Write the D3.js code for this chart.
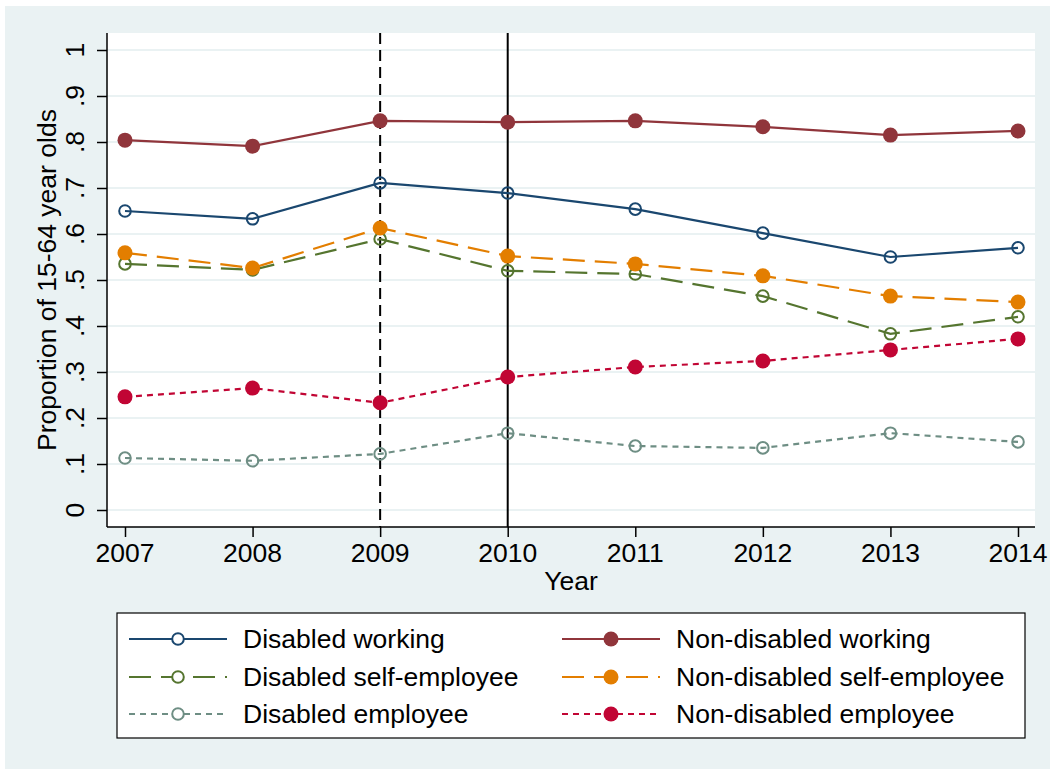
<!DOCTYPE html>
<html>
<head>
<meta charset="utf-8">
<script src="https://cdn.jsdelivr.net/npm/d3@7"></script>
<style>
  body{margin:0;background:#fff;}
  svg{display:block;font-family:"Liberation Sans",Arial,sans-serif;}
</style>
</head>
<body>
<svg id="chart"></svg>
<script>
// data
const years = [2007,2008,2009,2010,2011,2012,2013,2014];
const yTicks = [0,.1,.2,.3,.4,.5,.6,.7,.8,.9,1];
const yTickLabels = ["0",".1",".2",".3",".4",".5",".6",".7",".8",".9","1"];
const disWorking    = [0.650,0.633,0.711,0.689,0.654,0.602,0.550,0.570];
const nonWorking    = [0.804,0.791,0.846,0.843,0.846,0.833,0.815,0.824];
const disSelf       = [0.535,0.522,0.589,0.520,0.513,0.465,0.383,0.420];
const nonSelf       = [0.559,0.526,0.613,0.552,0.535,0.509,0.465,0.452];
const disEmployee   = [0.113,0.107,0.122,0.167,0.139,0.135,0.167,0.148];
const nonEmployee   = [0.246,0.265,0.233,0.289,0.311,0.324,0.348,0.372];
const seriesNames = ["Disabled working","Non-disabled working","Disabled self-employee",
                     "Non-disabled self-employee","Disabled employee","Non-disabled employee"];

const series = [
  {name:seriesNames[0],vals:disWorking, color:"#1a476f",dash:null,   filled:false},
  {name:seriesNames[1],vals:nonWorking, color:"#90353b",dash:null,   filled:true},
  {name:seriesNames[2],vals:disSelf,    color:"#55752f",dash:"22,10",filled:false},
  {name:seriesNames[3],vals:nonSelf,    color:"#e37e00",dash:"22,10",filled:true},
  {name:seriesNames[4],vals:disEmployee,color:"#6e8e84",dash:"6,5",  filled:false},
  {name:seriesNames[5],vals:nonEmployee,color:"#c10534",dash:"6,5",  filled:true}
];

const width=1050,height=769,fs=26.5;
const svg=d3.select('#chart').attr('width',width).attr('height',height);

// outer background (Stata s2color)
svg.append('rect').attr('x',5).attr('y',6).attr('width',width-5).attr('height',height-6).attr('fill','#eaf2f3');

const plot={x0:107,x1:1035,y0:33,y1:527};
svg.append('rect').attr('x',plot.x0).attr('y',plot.y0)
  .attr('width',plot.x1-plot.x0).attr('height',plot.y1-plot.y0).attr('fill','#fff');

const x=d3.scaleLinear().domain([2007,2014]).range([125,1018]);
const y=d3.scaleLinear().domain([0,1]).range([510,50]);

// gridlines
svg.selectAll('.grid').data(yTicks).join('line').classed('grid',true)
  .attr('x1',plot.x0).attr('x2',plot.x1)
  .attr('y1',d=>y(d)).attr('y2',d=>y(d))
  .attr('stroke','#eaf2f3').attr('stroke-width',2);

// reference lines at 2009 (dashed) and 2010 (solid)
svg.append('line').attr('x1',x(2009)).attr('x2',x(2009)).attr('y1',plot.y0).attr('y2',plot.y1)
  .attr('stroke','#000').attr('stroke-width',2).attr('stroke-dasharray','11,6');
svg.append('line').attr('x1',x(2010)).attr('x2',x(2010)).attr('y1',plot.y0).attr('y2',plot.y1)
  .attr('stroke','#000').attr('stroke-width',2);

// y axis
const yAxis=d3.axisLeft(y).tickValues(yTicks).tickSize(10).tickFormat('');
const gy=svg.append('g').attr('transform',`translate(${plot.x0},0)`).call(yAxis);
gy.select('.domain').remove();
gy.selectAll('.tick line').attr('stroke','#000').attr('stroke-width',1.5);
svg.append('line').attr('x1',plot.x0).attr('x2',plot.x0).attr('y1',plot.y0).attr('y2',plot.y1)
  .attr('stroke','#000').attr('stroke-width',1.5);
svg.selectAll('.ylab').data(yTicks).join('text').classed('ylab',true)
  .attr('transform',(d)=>`translate(84,${y(d)}) rotate(-90)`)
  .attr('text-anchor','middle').attr('font-size',fs)
  .text((d,i)=>yTickLabels[i]);

// x axis
const xAxis=d3.axisBottom(x).tickValues(years).tickSize(10).tickFormat('');
const gx=svg.append('g').attr('transform',`translate(0,${plot.y1})`).call(xAxis);
gx.select('.domain').remove();
gx.selectAll('.tick line').attr('stroke','#000').attr('stroke-width',1.5);
svg.append('line').attr('x1',plot.x0).attr('x2',plot.x1).attr('y1',plot.y1).attr('y2',plot.y1)
  .attr('stroke','#000').attr('stroke-width',1.5);
svg.selectAll('.xlab').data(years).join('text').classed('xlab',true)
  .attr('x',d=>x(d)).attr('y',562).attr('text-anchor','middle').attr('font-size',fs)
  .text(d=>d);

// axis titles
svg.append('text').attr('x',571).attr('y',590).attr('text-anchor','middle').attr('font-size',fs).text('Year');
svg.append('text').attr('transform',`translate(56,280) rotate(-90)`)
  .attr('text-anchor','middle').attr('font-size',fs).text('Proportion of 15-64 year olds');

// lines + markers
const line=d3.line().x((d,i)=>x(years[i])).y(d=>y(d));
series.forEach(s=>{
  svg.append('path').datum(s.vals).attr('d',line)
    .attr('fill','none').attr('stroke',s.color).attr('stroke-width',2.2)
    .attr('stroke-dasharray',s.dash);
  svg.selectAll(null).data(s.vals).join('circle')
    .attr('cx',(d,i)=>x(years[i])).attr('cy',d=>y(d))
    .attr('r',s.filled?7.5:5.8)
    .attr('fill',s.filled?s.color:'none')
    .attr('stroke',s.color).attr('stroke-width',s.filled?0:2);
});

// legend
svg.append('rect').attr('x',117).attr('y',613).attr('width',908).attr('height',125)
  .attr('fill','#fff').attr('stroke','#000').attr('stroke-width',1.2);
const rowY=[639,677,714];
series.forEach((s,i)=>{
  const col=i%2, row=Math.floor(i/2);
  const lx=col?562:129, cy=rowY[row];
  const g=svg.append('g');
  g.append('line').attr('x1',lx).attr('x2',lx+98).attr('y1',cy).attr('y2',cy)
    .attr('stroke',s.color).attr('stroke-width',2.2).attr('stroke-dasharray',s.dash);
  g.append('circle').attr('cx',lx+49).attr('cy',cy).attr('r',s.filled?7.5:5.8)
    .attr('fill',s.filled?s.color:'#fff').attr('stroke',s.color).attr('stroke-width',s.filled?0:2);
  g.append('text').attr('x',lx+114).attr('y',cy).attr('dy','0.35em').attr('font-size',fs).text(s.name);
});
</script>
</body>
</html>
